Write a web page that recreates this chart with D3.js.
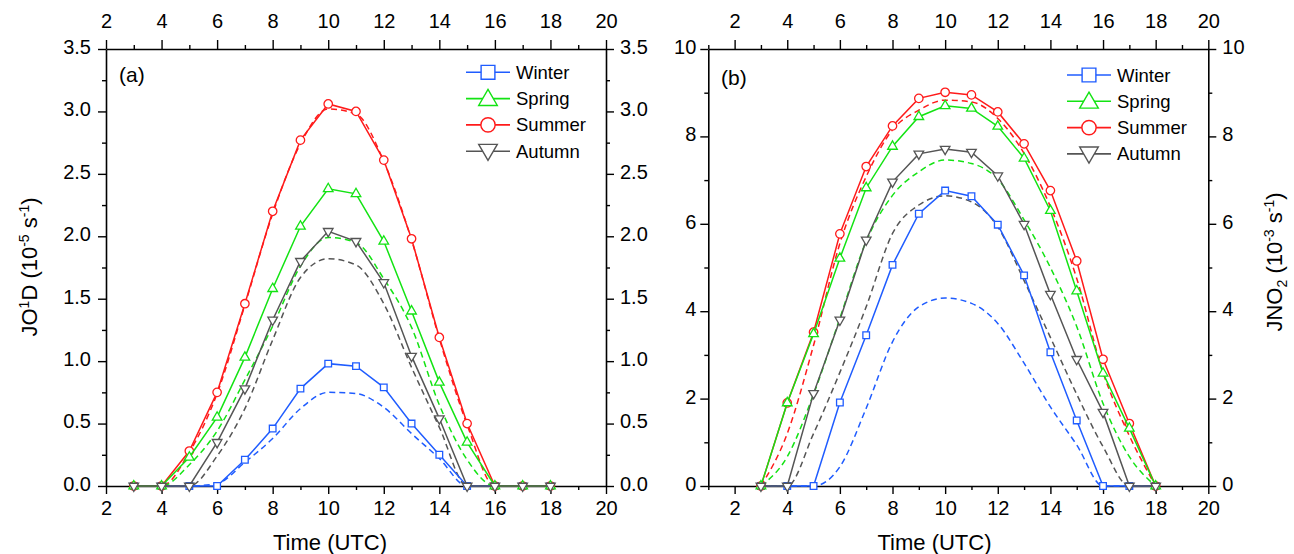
<!DOCTYPE html>
<html><head><meta charset="utf-8">
<script src="https://cdn.jsdelivr.net/npm/d3@7"></script>
<style>
html,body{margin:0;padding:0;background:#fff;}
svg{display:block;}
.tick text{font-family:'Liberation Sans Narrow','Liberation Sans',Arial,sans-serif;font-size:20px;fill:#000;}
</style></head>
<body>
<svg id="chart" width="1294" height="554"></svg>
<script>
// ---------------- data ----------------
const hours = [3,4,5,6,7,8,9,10,11,12,13,14,15,16,17,18];
const seasons = ["Winter","Spring","Summer","Autumn"];
const drawOrder = ["Winter","Summer","Spring","Autumn"];

// JO1D (10^-5 s^-1): observed (solid + markers) and modelled (dashed)
const jo1dWinterObs = [0,0,0,0,0.21,0.46,0.78,0.98,0.96,0.79,0.50,0.25,0,0,0,0];
const jo1dSpringObs = [0,0,0.23,0.55,1.03,1.58,2.08,2.38,2.34,1.96,1.40,0.83,0.35,0,0,0];
const jo1dSummerObs = [0,0,0.28,0.75,1.46,2.20,2.77,3.06,3.00,2.61,1.98,1.19,0.50,0,0,0];
const jo1dAutumnObs = [0,0,0,0.35,0.78,1.33,1.80,2.04,1.96,1.63,1.04,0.54,0,0,0,0];
const jo1dWinterMod = [0,0,0,0.02,0.19,0.38,0.62,0.75,0.74,0.63,0.42,0.22,0,0,0,0];
const jo1dSpringMod = [0,0,0.17,0.44,0.85,1.28,1.76,1.99,1.95,1.66,1.27,0.65,0.21,0,0,0];
const jo1dSummerMod = [0,0,0.27,0.74,1.45,2.18,2.74,3.02,2.98,2.60,1.97,1.18,0.49,0,0,0];
const jo1dAutumnMod = [0,0,0,0.24,0.62,1.17,1.67,1.82,1.77,1.46,0.95,0.47,0,0,0,0];

// JNO2 (10^-3 s^-1)
const jno2WinterObs = [0,0,0,1.91,3.45,5.06,6.23,6.76,6.63,5.98,4.82,3.06,1.50,0,0,0];
const jno2SpringObs = [0,1.90,3.48,5.21,6.82,7.77,8.45,8.70,8.64,8.23,7.50,6.30,4.46,2.58,1.32,0];
const jno2SummerObs = [0,1.90,3.52,5.77,7.31,8.24,8.87,9.01,8.95,8.56,7.83,6.76,5.15,2.90,1.43,0];
const jno2AutumnObs = [0,0,2.12,3.80,5.63,6.96,7.60,7.71,7.64,7.10,5.99,4.39,2.90,1.69,0,0];
const jno2WinterMod = [0,0,0,0.44,1.78,3.30,4.10,4.30,4.18,3.72,2.81,1.81,0.94,0,0,0];
const jno2SpringMod = [0,0.67,2.10,3.84,5.60,6.65,7.19,7.46,7.38,7.02,6.09,5.00,3.65,1.89,0.67,0];
const jno2SummerMod = [0,1.20,3.22,5.55,7.08,8.15,8.60,8.83,8.79,8.41,7.61,6.39,4.75,2.60,1.15,0];
const jno2AutumnMod = [0,0,1.20,2.60,4.10,5.78,6.43,6.64,6.50,5.93,4.70,3.40,2.10,0.90,0,0];

// axis ticks
const xMajorTicks = [2,4,6,8,10,12,14,16,18,20];
const jo1dMajorTicks = [0,0.5,1.0,1.5,2.0,2.5,3.0,3.5];
const jno2MajorTicks = [0,2,4,6,8,10];

// ---------------- styles ----------------
const colors = {Winter:"#1f5cff", Spring:"#13e313", Summer:"#ff1a1a", Autumn:"#555555"};
const symbols = {Winter:d3.symbolSquare, Spring:d3.symbolTriangle, Summer:d3.symbolCircle, Autumn:d3.symbolTriangle};
const rotate = {Winter:0, Spring:0, Summer:0, Autumn:180};
const markerSize = {Winter:44, Spring:40, Summer:56, Autumn:40};
const legendSize = {Winter:190, Spring:150, Summer:160, Autumn:150};
const FONT = "'Liberation Sans', Arial, sans-serif";

const svg = d3.select("#chart");

function panel(opts){
  const {x, y, yMajor, yMinor, xMinor, obs, mod, yFmt, label, labelPos, titleX, legendX, legendY, leftPad, rightPad} = opts;
  const g = svg.append("g");
  const [x0,x1] = x.range(); const [y0,y1] = y.range();

  // axes: minor
  const axes = [
    [d3.axisBottom(x).tickValues(xMinor), `translate(0,${y0})`],
    [d3.axisTop(x).tickValues(xMinor), `translate(0,${y1})`],
    [d3.axisLeft(y).tickValues(yMinor), `translate(${x0},0)`],
    [d3.axisRight(y).tickValues(yMinor), `translate(${x1},0)`]
  ];
  axes.forEach(([a,t])=>{
    g.append("g").attr("transform",t).call(a.tickSize(4).tickSizeOuter(0).tickFormat(""))
      .call(s=>s.select(".domain").remove())
      .selectAll("line").attr("stroke","#000").attr("stroke-width",1.4);
  });
  // major
  const gb = g.append("g").attr("transform",`translate(0,${y0})`)
    .call(d3.axisBottom(x).tickValues(xMajorTicks).tickSize(8).tickSizeOuter(0).tickPadding(7).tickFormat(d3.format("d")));
  const gt = g.append("g").attr("transform",`translate(0,${y1})`)
    .call(d3.axisTop(x).tickValues(xMajorTicks).tickSize(9).tickSizeOuter(0).tickPadding(12).tickFormat(d3.format("d")));
  const gl = g.append("g").attr("transform",`translate(${x0},0)`)
    .call(d3.axisLeft(y).tickValues(yMajor).tickSize(8).tickSizeOuter(0).tickPadding(leftPad).tickFormat(yFmt));
  const gr = g.append("g").attr("transform",`translate(${x1},0)`)
    .call(d3.axisRight(y).tickValues(yMajor).tickSize(8).tickSizeOuter(0).tickPadding(rightPad).tickFormat(yFmt));
  [gl,gr].forEach(s=>s.selectAll("text").attr("dy","0.22em"));
  [gb,gt,gl,gr].forEach(s=>{
    s.attr("font-family",null).attr("font-size",null);
    s.selectAll(".domain").attr("stroke","#000").attr("stroke-width",1.6);
    s.selectAll(".tick line").attr("stroke","#000").attr("stroke-width",1.4);
  });

  // dashed model lines
  const lineM = d3.line().x(d=>x(d.t)).y(d=>y(d.v)).curve(d3.curveMonotoneX);
  const lineO = d3.line().x(d=>x(d.t)).y(d=>y(d.v));
  drawOrder.forEach(s=>{
    const data = hours.map((t,i)=>({t, v:mod[s][i]}));
    g.append("path").attr("d",lineM(data)).attr("fill","none")
      .attr("stroke",colors[s]).attr("stroke-width",1.5).attr("stroke-dasharray","6,4");
  });
  drawOrder.forEach(s=>{
    const data = hours.map((t,i)=>({t, v:obs[s][i]}));
    g.append("path").attr("d",lineO(data)).attr("fill","none")
      .attr("stroke",colors[s]).attr("stroke-width",1.5);
    g.append("g").selectAll("path").data(data).join("path")
      .attr("d",d3.symbol(symbols[s], markerSize[s]))
      .attr("transform",d=>`translate(${x(d.t)},${y(d.v)}) rotate(${rotate[s]})`)
      .attr("fill","#fff").attr("stroke",colors[s]).attr("stroke-width",1.3);
  });

  // legend
  seasons.forEach((s,i)=>{
    const ly = legendY + i*26.3;
    g.append("line").attr("x1",legendX).attr("x2",legendX+44).attr("y1",ly).attr("y2",ly)
      .attr("stroke",colors[s]).attr("stroke-width",1.6);
    g.append("path").attr("d",d3.symbol(symbols[s], legendSize[s]))
      .attr("transform",`translate(${legendX+22},${ly+(s==="Spring"?1.5:(s==="Autumn"?-1.5:0))}) rotate(${rotate[s]})`)
      .attr("fill","#fff").attr("stroke",colors[s]).attr("stroke-width",1.4);
    g.append("text").attr("x",legendX+50).attr("y",ly+6.5).text(s)
      .attr("font-family",FONT).attr("font-size",18.5).attr("fill","#000");
  });

  // panel label
  g.append("text").attr("x",labelPos[0]).attr("y",labelPos[1]).text(label)
    .attr("font-family",FONT).attr("font-size",21);
  // x title
  g.append("text").attr("x",titleX).attr("y",550).attr("text-anchor","middle").text("Time (UTC)")
    .attr("font-family",FONT).attr("font-size",22);
  return g;
}

const xL = d3.scaleLinear().domain([2,20]).range([106,606]);
const yL = d3.scaleLinear().domain([0,3.5]).range([486,49]);
const xR = d3.scaleLinear().domain([1,20]).range([708.3,1208.3]);
const yR = d3.scaleLinear().domain([0,10]).range([486,49]);

panel({
  x:xL, y:yL, yMajor:jo1dMajorTicks,
  yMinor:[0.25,0.75,1.25,1.75,2.25,2.75,3.25],
  xMinor:[3,5,7,9,11,13,15,17,19],
  obs:{Winter:jo1dWinterObs,Spring:jo1dSpringObs,Summer:jo1dSummerObs,Autumn:jo1dAutumnObs},
  mod:{Winter:jo1dWinterMod,Spring:jo1dSpringMod,Summer:jo1dSummerMod,Autumn:jo1dAutumnMod},
  yFmt:d3.format(".1f"), label:"(a)", labelPos:[119,82], titleX:330,
  legendX:466, legendY:72.3, leftPad:7, rightPad:6
});
panel({
  x:xR, y:yR, yMajor:jno2MajorTicks,
  yMinor:[1,3,5,7,9],
  xMinor:[1,3,5,7,9,11,13,15,17,19],
  obs:{Winter:jno2WinterObs,Spring:jno2SpringObs,Summer:jno2SummerObs,Autumn:jno2AutumnObs},
  mod:{Winter:jno2WinterMod,Spring:jno2SpringMod,Summer:jno2SummerMod,Autumn:jno2AutumnMod},
  yFmt:d3.format("d"), label:"(b)", labelPos:[721,85], titleX:934.5,
  legendX:1067, legendY:75, leftPad:4, rightPad:6
});

// y-axis titles
const tl = svg.append("text").attr("transform","translate(37,267) rotate(-90)")
  .attr("text-anchor","middle").attr("font-family",FONT).attr("font-size",22);
tl.append("tspan").text("JO");
tl.append("tspan").text("1").attr("font-size",14).attr("dy",-8);
tl.append("tspan").text("D (10").attr("dy",8);
tl.append("tspan").text("-5").attr("font-size",14).attr("dy",-8);
tl.append("tspan").text(" s").attr("dy",8);
tl.append("tspan").text("-1").attr("font-size",14).attr("dy",-8);
tl.append("tspan").text(")").attr("dy",8);

const tr = svg.append("text").attr("transform","translate(1282,262) rotate(-90)")
  .attr("text-anchor","middle").attr("font-family",FONT).attr("font-size",22);
tr.append("tspan").text("JNO");
tr.append("tspan").text("2").attr("font-size",14).attr("dy",5);
tr.append("tspan").text(" (10").attr("dy",-5);
tr.append("tspan").text("-3").attr("font-size",14).attr("dy",-8);
tr.append("tspan").text(" s").attr("dy",8);
tr.append("tspan").text("-1").attr("font-size",14).attr("dy",-8);
tr.append("tspan").text(")").attr("dy",8);
</script>
</body></html>
